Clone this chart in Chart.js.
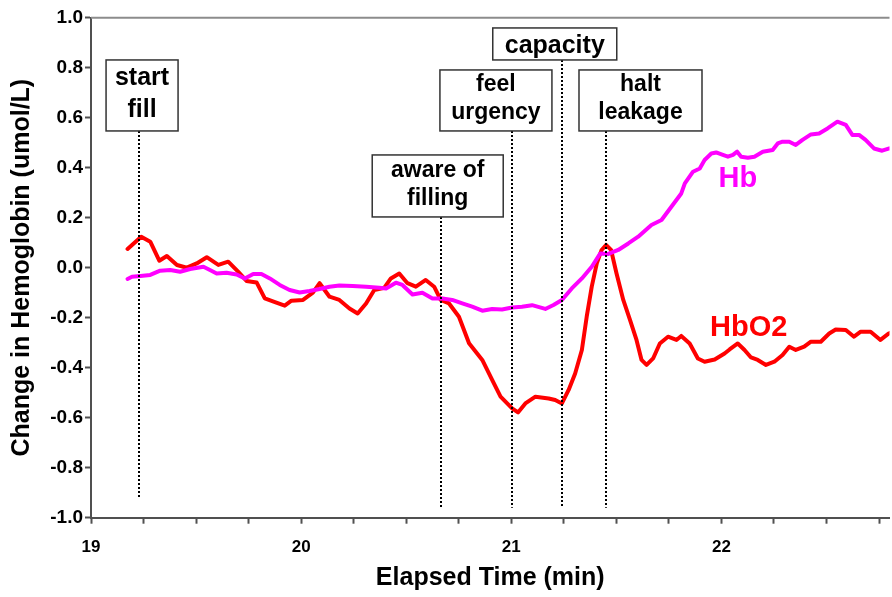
<!DOCTYPE html>
<html>
<head>
<meta charset="utf-8">
<script src="https://cdn.jsdelivr.net/npm/chart.js"></script>
<style>
  html, body { margin: 0; padding: 0; background: #fff; overflow: hidden; }
  #wrap { width: 892px; height: 597px; position: relative; }
</style>
</head>
<body>
<div id="wrap"><canvas id="hbChart"></canvas></div>
<script>
// elapsed time (min) and change in concentration (umol/L)
const hbo2Time = [
  19.174, 19.239, 19.282, 19.325, 19.361, 19.409, 19.456, 19.503, 19.551, 19.606,
  19.653, 19.700, 19.740, 19.788, 19.827, 19.882, 19.922, 19.954, 20.009, 20.056,
  20.088, 20.135, 20.182, 20.230, 20.269, 20.309, 20.348, 20.396, 20.427, 20.467,
  20.506, 20.546, 20.593, 20.633, 20.664, 20.704, 20.751, 20.799, 20.862, 20.909,
  20.949, 21.004, 21.032, 21.067, 21.115, 21.178, 21.209, 21.241, 21.273, 21.304,
  21.336, 21.359, 21.383, 21.407, 21.430, 21.451, 21.475, 21.501, 21.533, 21.565,
  21.596, 21.620, 21.644, 21.675, 21.707, 21.746, 21.786, 21.809, 21.849, 21.888,
  21.920, 21.968, 22.015, 22.039, 22.078, 22.110, 22.141, 22.173, 22.212, 22.252,
  22.291, 22.323, 22.354, 22.394, 22.426, 22.473, 22.513, 22.544, 22.592, 22.631,
  22.663, 22.710, 22.757, 22.797, 22.830
];
const hbo2Values = [
  0.075, 0.124, 0.104, 0.028, 0.047, 0.011, 0.000, 0.017, 0.042, 0.011,
  0.024, -0.016, -0.053, -0.059, -0.123, -0.140, -0.152, -0.132, -0.129, -0.100,
  -0.062, -0.116, -0.129, -0.163, -0.183, -0.143, -0.089, -0.080, -0.043, -0.023,
  -0.062, -0.076, -0.049, -0.076, -0.129, -0.143, -0.196, -0.302, -0.369, -0.449,
  -0.516, -0.563, -0.579, -0.543, -0.516, -0.523, -0.529, -0.543, -0.489, -0.423,
  -0.329, -0.196, -0.076, 0.017, 0.071, 0.091, 0.071, -0.023, -0.129, -0.209,
  -0.289, -0.369, -0.389, -0.363, -0.303, -0.276, -0.289, -0.273, -0.303, -0.363,
  -0.376, -0.367, -0.343, -0.327, -0.303, -0.329, -0.359, -0.369, -0.389, -0.376,
  -0.349, -0.316, -0.329, -0.316, -0.296, -0.296, -0.263, -0.247, -0.249, -0.276,
  -0.256, -0.256, -0.289, -0.263, -0.250
];

const hbTime = [
  19.174, 19.195, 19.235, 19.282, 19.329, 19.377, 19.424, 19.472, 19.535, 19.566,
  19.598, 19.645, 19.693, 19.732, 19.772, 19.811, 19.851, 19.898, 19.945, 19.993,
  20.040, 20.088, 20.135, 20.182, 20.245, 20.309, 20.372, 20.404, 20.451, 20.482,
  20.530, 20.577, 20.625, 20.672, 20.719, 20.767, 20.814, 20.862, 20.909, 20.956,
  21.004, 21.051, 21.099, 21.162, 21.201, 21.241, 21.288, 21.336, 21.383, 21.423,
  21.462, 21.509, 21.557, 21.604, 21.667, 21.715, 21.762, 21.809, 21.826, 21.865,
  21.897, 21.920, 21.952, 21.975, 22.007, 22.031, 22.055, 22.075, 22.094, 22.126,
  22.157, 22.197, 22.244, 22.268, 22.291, 22.323, 22.354, 22.386, 22.426, 22.465,
  22.505, 22.552, 22.592, 22.623, 22.655, 22.686, 22.726, 22.765, 22.799, 22.830
];
const hbValues = [
  -0.045, -0.036, -0.033, -0.029, -0.012, -0.009, -0.016, -0.005, 0.004, -0.009,
  -0.023, -0.020, -0.027, -0.043, -0.025, -0.025, -0.043, -0.069, -0.089, -0.099,
  -0.093, -0.085, -0.076, -0.071, -0.073, -0.076, -0.080, -0.083, -0.060, -0.069,
  -0.107, -0.100, -0.123, -0.123, -0.129, -0.143, -0.156, -0.172, -0.165, -0.167,
  -0.159, -0.156, -0.150, -0.165, -0.149, -0.129, -0.083, -0.043, 0.004, 0.057,
  0.055, 0.071, 0.097, 0.124, 0.171, 0.191, 0.244, 0.297, 0.337, 0.384,
  0.397, 0.431, 0.457, 0.461, 0.451, 0.444, 0.451, 0.464, 0.444, 0.440,
  0.444, 0.464, 0.471, 0.497, 0.504, 0.504, 0.491, 0.511, 0.533, 0.537,
  0.557, 0.584, 0.571, 0.531, 0.531, 0.511, 0.477, 0.468, 0.477, 0.480
];

// events marked on the trace
const markerTimes = [19.23, 20.664, 21.004, 21.241, 21.451];
const markerLabels = [["start", "fill"], ["aware of", "filling"], ["feel", "urgency"], ["capacity"], ["halt", "leakage"]];
const markerEnds = [-0.92, -0.96, -0.96, -0.96, -0.96];

const xTicks = [19, 19.25, 19.5, 19.75, 20, 20.25, 20.5, 20.75, 21, 21.25, 21.5, 21.75, 22, 22.25, 22.5, 22.75];
const yTicks = [-1.0, -0.8, -0.6, -0.4, -0.2, 0.0, 0.2, 0.4, 0.6, 0.8, 1.0];

const FONT = "'Liberation Sans', Arial, sans-serif";
const AXIS = "#505050";

// label box placement: centre time, top/bottom value, width px, font px
const boxStyle = [
  { cx: 19.243, top: 0.831, bottom: 0.547, w: 72, size: 25 },
  { cx: 20.650, top: 0.451, bottom: 0.203, w: 131, size: 23 },
  { cx: 20.927, top: 0.791, bottom: 0.547, w: 112, size: 23 },
  { cx: 21.207, top: 0.959, bottom: 0.831, w: 124, size: 25 },
  { cx: 21.615, top: 0.791, bottom: 0.547, w: 123, size: 23 }
];
const seriesTags = [
  { text: "Hb", x: 22.078, y: 0.324, color: "#ff00ff" },
  { text: "HbO2", x: 22.13, y: -0.275, color: "#ff0000" }
];

const markers = {
  id: "markers",
  afterDatasetsDraw(chart) {
    const { ctx, chartArea, scales: { x, y } } = chart;
    ctx.save();

    // top frame line
    ctx.strokeStyle = "#8c8c8c";
    ctx.lineWidth = 2;
    ctx.beginPath();
    ctx.moveTo(chartArea.left, chartArea.top);
    ctx.lineTo(chartArea.right, chartArea.top);
    ctx.stroke();

    markerTimes.forEach((t, i) => {
      const b = boxStyle[i];
      const lx = Math.round(x.getPixelForValue(t));
      const top = y.getPixelForValue(b.top);
      const bottom = y.getPixelForValue(b.bottom);
      const h = bottom - top;
      const left = x.getPixelForValue(b.cx) - b.w / 2;

      ctx.setLineDash([2, 2]);
      ctx.lineWidth = 2;
      ctx.strokeStyle = "#000";
      ctx.beginPath();
      ctx.moveTo(lx, Math.round(bottom));
      ctx.lineTo(lx, y.getPixelForValue(markerEnds[i]));
      ctx.stroke();

      ctx.setLineDash([]);
      ctx.fillStyle = "#fff";
      ctx.fillRect(left, top, b.w, h);
      ctx.strokeStyle = "#333";
      ctx.lineWidth = 1.5;
      ctx.strokeRect(left, top, b.w, h);

      ctx.fillStyle = "#000";
      ctx.font = "bold " + b.size + "px " + FONT;
      ctx.textAlign = "center";
      ctx.textBaseline = "alphabetic";
      const lines = markerLabels[i];
      const cx = left + b.w / 2;
      if (lines.length === 1) {
        ctx.fillText(lines[0], cx, top + h * 0.78);
      } else {
        ctx.fillText(lines[0], cx, top + h * 0.35);
        ctx.fillText(lines[1], cx, top + h * 0.8);
      }
    });

    seriesTags.forEach(s => {
      ctx.fillStyle = s.color;
      ctx.font = "bold 29px " + FONT;
      ctx.textAlign = "center";
      ctx.textBaseline = "alphabetic";
      ctx.fillText(s.text, x.getPixelForValue(s.x), y.getPixelForValue(s.y));
    });
    ctx.restore();
  }
};

const ctx = document.getElementById("hbChart").getContext("2d");

new Chart(ctx, {
  type: "line",
  data: {
    datasets: [
      {
        label: "Hb",
        data: hbTime.map((t, i) => ({ x: t, y: hbValues[i] })),
        borderColor: "#ff00ff",
        borderWidth: 4,
        pointRadius: 0,
        tension: 0,
        order: 0
      },
      {
        label: "HbO2",
        data: hbo2Time.map((t, i) => ({ x: t, y: hbo2Values[i] })),
        borderColor: "#ff0000",
        borderWidth: 4,
        pointRadius: 0,
        tension: 0,
        order: 1
      }
    ]
  },
  options: {
    responsive: true,
    maintainAspectRatio: false,
    animation: false,
    layout: { padding: { top: 17.7, left: 0, right: 0, bottom: 0 } },
    plugins: { legend: { display: false }, tooltip: { enabled: false } },
    elements: { line: { borderJoinStyle: "round", borderCapStyle: "round" } },
    scales: {
      x: {
        type: "linear",
        min: 19,
        max: 22.8,
        afterBuildTicks: s => { s.ticks = xTicks.map(v => ({ value: v })); },
        afterFit: s => { s.height = 79.3; },
        ticks: {
          autoSkip: false,
          maxRotation: 0,
          padding: 13,
          color: "#000",
          font: { family: FONT, size: 17, weight: "bold" },
          callback: v => (Number.isInteger(v) ? String(v) : "")
        },
        grid: { drawOnChartArea: false, tickLength: 6, tickWidth: 2, tickColor: AXIS },
        border: { color: AXIS, width: 2 },
        title: {
          display: true,
          text: "Elapsed Time (min)",
          color: "#000",
          font: { family: FONT, size: 25, weight: "bold" },
          padding: { top: 0, bottom: 4 }
        }
      },
      y: {
        min: -1,
        max: 1,
        afterBuildTicks: s => { s.ticks = yTicks.map(v => ({ value: v })); },
        afterFit: s => { s.width = 91; },
        ticks: {
          padding: 2,
          color: "#000",
          font: { family: FONT, size: 19, weight: "bold" },
          callback: v => v.toFixed(1)
        },
        grid: { drawOnChartArea: false, tickLength: 6, tickWidth: 2, tickColor: AXIS },
        border: { color: AXIS, width: 2 },
        title: {
          display: true,
          text: "Change in Hemoglobin (umol/L)",
          color: "#000",
          font: { family: FONT, size: 25, weight: "bold" },
          padding: { top: 7, bottom: 0 }
        }
      }
    }
  },
  plugins: [markers]
});
</script>
</body>
</html>
